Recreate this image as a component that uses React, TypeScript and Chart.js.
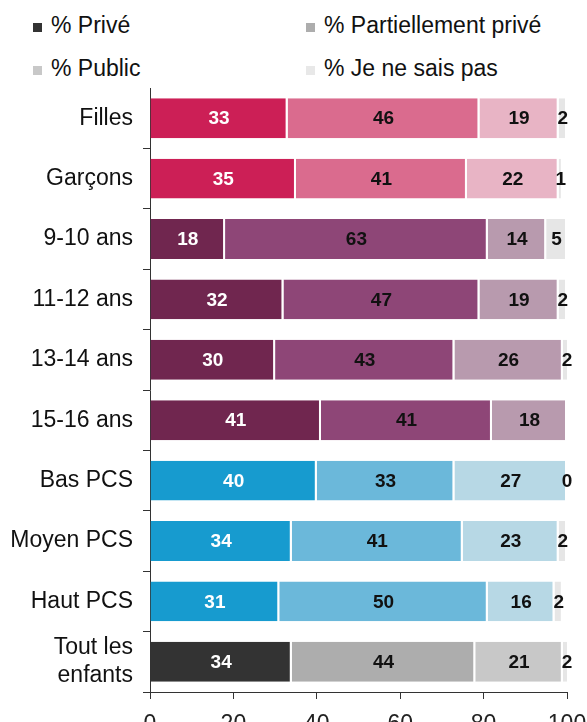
import React, { useEffect, useRef } from "react";
import { Chart, registerables } from "chart.js";

Chart.register(...registerables);

const categories: (string | string[])[] = [
  "Filles",
  "Garçons",
  "9-10 ans",
  "11-12 ans",
  "13-14 ans",
  "15-16 ans",
  "Bas PCS",
  "Moyen PCS",
  "Haut PCS",
  ["Tout les", "enfants"],
];

const seriesNames = ["% Privé", "% Partiellement privé", "% Public", "% Je ne sais pas"];

const prive = [33, 35, 18, 32, 30, 41, 40, 34, 31, 34];
const partiel = [46, 41, 63, 47, 43, 41, 33, 41, 50, 44];
const publique = [19, 22, 14, 19, 26, 18, 27, 23, 16, 21];
const nesaispas: (number | null)[] = [2, 1, 5, 2, 2, null, 0, 2, 2, 2];

const xTicks = [0, 20, 40, 60, 80, 100];

// colour per group: gender, age, PCS, all
const groupOfRow = [0, 0, 1, 1, 1, 1, 2, 2, 2, 3];
const palette = [
  ["#CC1F56", "#70264F", "#179BCF", "#333333"],
  ["#DA6B8E", "#8E4677", "#6BB8DA", "#ADADAD"],
  ["#E8B4C5", "#B89AAE", "#B7D8E5", "#C8C8C8"],
  ["#E6E6E6", "#E6E6E6", "#E6E6E6", "#E6E6E6"],
];
const legendColors = ["#333333", "#ADADAD", "#C8C8C8", "#E8E8E8"];

const FONT = "'Liberation Sans', Arial, sans-serif";

const valueLabels = {
  id: "valueLabels",
  afterDatasetsDraw(chart: any) {
    const ctx = chart.ctx;
    ctx.save();
    ctx.font = `bold 19px ${FONT}`;
    ctx.textAlign = "center";
    ctx.textBaseline = "middle";
    chart.data.datasets.forEach((ds: any, i: number) => {
      const meta = chart.getDatasetMeta(i);
      meta.data.forEach((el: any, j: number) => {
        const v = ds.data[j];
        if (v === null || v === undefined) return;
        const x = (el.x + el.base) / 2;
        ctx.fillStyle = i === 0 ? "#ffffff" : "#111111";
        ctx.fillText(String(v), x, el.y + 1);
      });
    });
    ctx.restore();
  },
};

export default function App() {
  const ref = useRef<HTMLCanvasElement>(null);

  useEffect(() => {
    if (!ref.current) return;
    const allSeries = [prive, partiel, publique, nesaispas];
    const chart = new Chart(ref.current, {
      type: "bar",
      data: {
        labels: categories as any,
        datasets: allSeries.map((d, i) => ({
          label: seriesNames[i],
          data: d as any,
          backgroundColor: groupOfRow.map((g) => palette[i][g]),
          borderColor: "#ffffff",
          borderWidth: { top: 0, bottom: 0, left: 0, right: 2 },
          borderSkipped: false,
          barPercentage: 0.66,
          categoryPercentage: 1,
        })),
      },
      options: {
        indexAxis: "y",
        responsive: false,
        animation: false,
        layout: { padding: { top: 88, right: 0, left: 0, bottom: 0 } },
        plugins: {
          legend: { display: false },
          tooltip: { enabled: false },
        },
        scales: {
          x: {
            stacked: true,
            min: 0,
            max: 100,
            afterBuildTicks: (s: any) => {
              s.ticks = xTicks.map((v) => ({ value: v }));
            },
            afterFit: (s: any) => {
              s.height = 30;
              s.paddingRight = 20;
            },
            ticks: {
              color: "#222",
              padding: 12,
              font: { family: FONT, size: 23 },
            },
            grid: {
              drawOnChartArea: false,
              drawTicks: true,
              tickLength: 7,
              color: "#333",
            },
            border: { display: true, color: "#333", width: 1 },
          },
          y: {
            stacked: true,
            afterFit: (s: any) => {
              s.width = 150;
            },
            ticks: {
              color: "#111",
              padding: 10,
              font: { family: FONT, size: 23, lineHeight: 1.22 },
            },
            grid: {
              offset: true,
              drawOnChartArea: false,
              drawTicks: true,
              tickLength: 7,
              color: (c: any) => (c.index === 0 ? "rgba(0,0,0,0)" : "#333"),
            },
            border: { display: true, color: "#333", width: 1 },
          },
        },
      },
      plugins: [valueLabels],
    });
    return () => chart.destroy();
  }, []);

  const legendPos = [
    { left: 33, top: 0 },
    { left: 306, top: 0 },
    { left: 33, top: 43 },
    { left: 306, top: 43 },
  ];

  return (
    <div
      style={{
        position: "absolute",
        left: 0,
        top: 0,
        width: 587,
        height: 722,
        background: "#fff",
        overflow: "hidden",
      }}
    >
      {seriesNames.map((n, i) => (
        <div key={n}>
          <div
            style={{
              position: "absolute",
              left: legendPos[i].left,
              top: 23 + legendPos[i].top,
              width: 9,
              height: 9,
              background: legendColors[i],
            }}
          />
          <div
            style={{
              position: "absolute",
              left: legendPos[i].left + 18,
              top: 14 + legendPos[i].top,
              fontFamily: FONT,
              fontSize: 23,
              lineHeight: "23px",
              color: "#111",
              whiteSpace: "nowrap",
            }}
          >
            {n}
          </div>
        </div>
      ))}
      <canvas
        ref={ref}
        width={587}
        height={722}
        style={{ position: "absolute", left: 0, top: 0, width: 587, height: 722 }}
      />
    </div>
  );
}
